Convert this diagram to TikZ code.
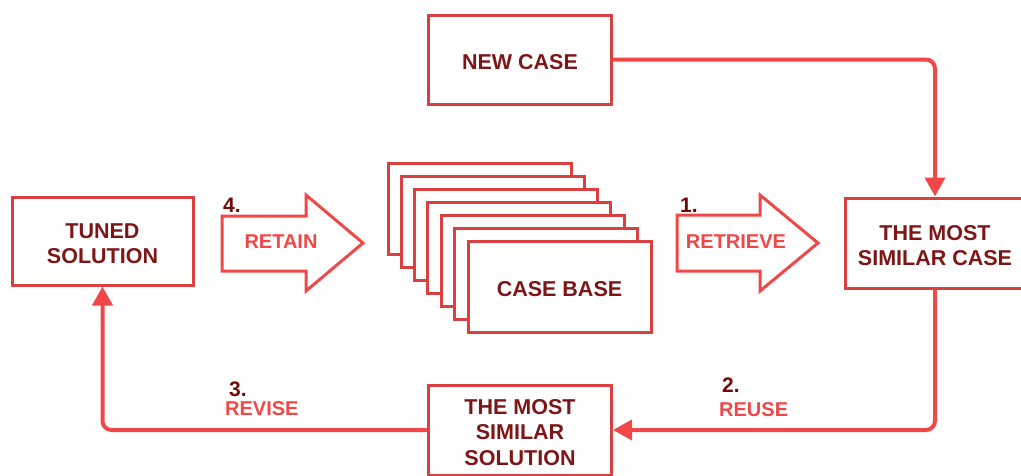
\documentclass[tikz,border=0pt]{standalone}
\usepackage{fontspec}
\setmainfont{Liberation Sans}
\usetikzlibrary{arrows.meta}

\definecolor{boxred}{RGB}{218,64,64}
\definecolor{arrowred}{RGB}{240,72,72}
\definecolor{textred}{RGB}{125,22,22}
\definecolor{numred}{RGB}{112,10,10}

\begin{document}
\begin{tikzpicture}[x=1pt,y=-1pt,
  box/.style={draw=boxred, line width=3pt, fill=white, inner sep=0pt},
  boxtext/.style={text=textred, align=center, inner sep=0pt, yshift=-2.5pt,
    font=\fontsize{21.5}{25.5}\selectfont\bfseries},
  stackcard/.style={draw=boxred, line width=3pt, fill=white, inner sep=0pt,
    minimum width=183pt, minimum height=91pt},
  conn/.style={draw=arrowred, line width=4pt, rounded corners=9pt,
    -{Triangle[length=19pt,width=20pt]}},
  blockarrow/.style={draw=arrowred, line width=3pt, fill=white, line join=miter},
  steplabel/.style={text=arrowred, inner sep=0pt,
    font=\fontsize{20}{22}\selectfont\bfseries},
  stepnum/.style={text=numred, inner sep=0pt, anchor=west,
    font=\fontsize{21}{22}\selectfont\bfseries}]

\useasboundingbox (0,0) rectangle (1021,475);

% main boxes, each with its caption centred inside
\node[box, minimum width=183pt, minimum height=89pt,
  label={[boxtext]center:NEW CASE}] (newcase) at (520,59.5) {};
\node[box, minimum width=180pt, minimum height=90pt,
  label={[boxtext]center:{THE MOST\\SIMILAR CASE}}] (similarcase) at (935,243) {};
\node[box, minimum width=183pt, minimum height=90pt,
  label={[boxtext]center:{THE MOST\\SIMILAR\\SOLUTION}}] (solution) at (520,430) {};
\node[box, minimum width=181pt, minimum height=88pt,
  label={[boxtext]center:{TUNED\\SOLUTION}}] (tuned) at (102.5,241) {};

% case base: a stack of cards, back to front
\foreach \i in {0,...,5}
  \node[stackcard] (card\i) at ({388+13.33*\i+91.5},{163+13*\i+45.5}) {};
\node[box, minimum width=183pt, minimum height=91pt,
  label={[boxtext]center:CASE BASE}] (casebase) at (559.5,287) {};

% block arrows
\draw[blockarrow] (222,216) -- (306,216) -- (306,195) -- (363,243)
  -- (306,291) -- (306,271) -- (222,271) -- cycle;
\node[steplabel] (retain) at (281,242) {RETAIN};
\node[stepnum] (num4) at (223,205.5) {4.};

\draw[blockarrow] (677,215) -- (760,215) -- (760,195) -- (818,243)
  -- (760,291) -- (760,271) -- (677,271) -- cycle;
\node[steplabel] (retrieve) at (736,242) {RETRIEVE};
\node[stepnum] (num1) at (680,205) {1.};

% connectors
\draw[conn] (newcase.east) -| (similarcase.north);
\draw[conn] (similarcase.south) |- (solution.east);
\draw[conn] (solution.west) -| (tuned.south);

% connector labels
\node[stepnum] (num2) at (722,385) {2.};
\node[steplabel, anchor=west] (reuse) at (719,409.5) {REUSE};
\node[stepnum] (num3) at (229,389) {3.};
\node[steplabel, anchor=west] (revise) at (225,409) {REVISE};

\end{tikzpicture}
\end{document}
